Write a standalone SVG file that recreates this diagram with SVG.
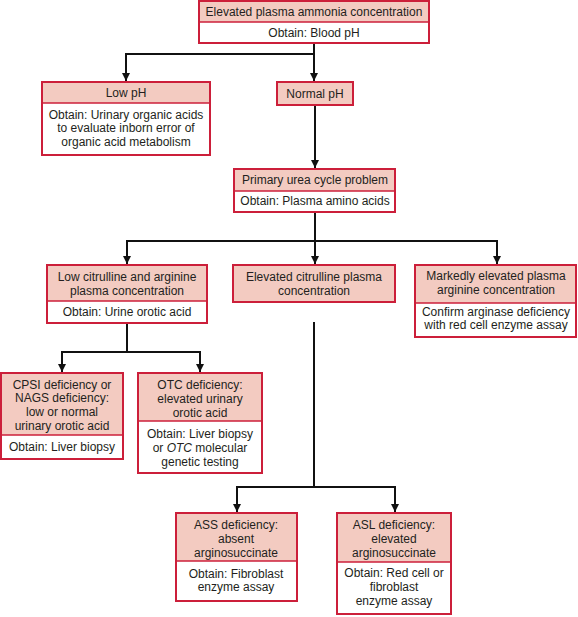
<svg xmlns="http://www.w3.org/2000/svg" width="578" height="617" viewBox="0 0 578 617">
<style>
.hd{fill:#F3CBC1;stroke:none}
.bd{fill:#FFFFFF;stroke:none}
.bx{fill:none;stroke:#CC1F3A;stroke-width:2}
.dv{stroke:#CC1F3A;stroke-width:1.5}
text{font-family:"Liberation Sans",Arial,sans-serif;font-size:12px;fill:#231F20;text-anchor:middle}
.cn{fill:none;stroke:#111;stroke-width:2}
</style>
<defs>
<marker id="ah" viewBox="0 0 10 10" refX="10" refY="5" markerWidth="8" markerHeight="9" markerUnits="userSpaceOnUse" orient="auto">
<path d="M0,0 L10,5 L0,10 Z" fill="#111"/>
</marker>
</defs>
<rect width="578" height="617" fill="#fff"/>
<g id="connectors">
<path class="cn" d="M314,43 V54 M126,54 H314"/>
<path class="cn" d="M314,54 V81" marker-end="url(#ah)"/>
<path class="cn" d="M126,53 V81" marker-end="url(#ah)"/>
<path class="cn" d="M315,105 V168" marker-end="url(#ah)"/>
<path class="cn" d="M315,212 V241 M126,241 H498"/>
<path class="cn" d="M127,240 V264" marker-end="url(#ah)"/>
<path class="cn" d="M315,241 V264" marker-end="url(#ah)"/>
<path class="cn" d="M497,240 V264" marker-end="url(#ah)"/>
<path class="cn" d="M127,323 V352 M61,352 H201"/>
<path class="cn" d="M62,351 V372" marker-end="url(#ah)"/>
<path class="cn" d="M200,351 V372" marker-end="url(#ah)"/>
<path class="cn" d="M314,322 V487 M236,487 H396"/>
<path class="cn" d="M237,486 V512" marker-end="url(#ah)"/>
<path class="cn" d="M395,486 V512" marker-end="url(#ah)"/>
</g>
<g id="n-ammonia">
<rect class="hd" x="199" y="1" width="230" height="21"/>
<rect class="bd" x="199" y="22" width="230" height="21"/>
<line class="dv" x1="199" y1="22" x2="429" y2="22"/>
<rect class="bx" x="199" y="1" width="230" height="42"/>
<text x="314" y="16">Elevated plasma ammonia concentration</text>
<text x="314" y="37">Obtain: Blood pH</text>
</g>
<g id="n-lowph">
<rect class="hd" x="42" y="82" width="168" height="21"/>
<rect class="bd" x="42" y="103" width="168" height="52"/>
<line class="dv" x1="42" y1="103" x2="210" y2="103"/>
<rect class="bx" x="42" y="82" width="168" height="73"/>
<text x="126" y="97">Low pH</text>
<text x="126" y="119">Obtain: Urinary organic acids</text>
<text x="126" y="132">to evaluate inborn error of</text>
<text x="126" y="146">organic acid metabolism</text>
</g>
<g id="n-normalph">
<rect class="hd" x="277" y="82" width="76" height="23"/>
<rect class="bx" x="277" y="82" width="76" height="23"/>
<text x="315" y="98">Normal pH</text>
</g>
<g id="n-primary">
<rect class="hd" x="234" y="169" width="161" height="22"/>
<rect class="bd" x="234" y="191" width="161" height="21"/>
<line class="dv" x1="234" y1="191" x2="395" y2="191"/>
<rect class="bx" x="234" y="169" width="161" height="43"/>
<text x="315" y="184">Primary urea cycle problem</text>
<text x="315" y="205">Obtain: Plasma amino acids</text>
</g>
<g id="n-lowcit">
<rect class="hd" x="47" y="265" width="160" height="36"/>
<rect class="bd" x="47" y="301" width="160" height="22"/>
<line class="dv" x1="47" y1="301" x2="207" y2="301"/>
<rect class="bx" x="47" y="265" width="160" height="58"/>
<text x="127" y="281">Low citrulline and arginine</text>
<text x="127" y="295">plasma concentration</text>
<text x="127" y="316">Obtain: Urine orotic acid</text>
</g>
<g id="n-elevcit">
<rect class="hd" x="233" y="265" width="162" height="37"/>
<rect class="bx" x="233" y="265" width="162" height="37"/>
<text x="314" y="281">Elevated citrulline plasma</text>
<text x="314" y="295">concentration</text>
</g>
<g id="n-arginine">
<rect class="hd" x="415" y="265" width="161" height="38"/>
<rect class="bd" x="415" y="303" width="161" height="34"/>
<line class="dv" x1="415" y1="303" x2="576" y2="303"/>
<rect class="bx" x="415" y="265" width="161" height="72"/>
<text x="496" y="280">Markedly elevated plasma</text>
<text x="496" y="294">arginine concentration</text>
<text x="496" y="316">Confirm arginase deficiency</text>
<text x="496" y="329">with red cell enzyme assay</text>
</g>
<g id="n-cpsi">
<rect class="hd" x="1" y="373" width="122" height="62"/>
<rect class="bd" x="1" y="435" width="122" height="24"/>
<line class="dv" x1="1" y1="435" x2="123" y2="435"/>
<rect class="bx" x="1" y="373" width="122" height="86"/>
<text x="62" y="389">CPSI deficiency or</text>
<text x="62" y="402">NAGS deficiency:</text>
<text x="62" y="416">low or normal</text>
<text x="62" y="430">urinary orotic acid</text>
<text x="62" y="451">Obtain: Liver biopsy</text>
</g>
<g id="n-otc">
<rect class="hd" x="138" y="373" width="124" height="48"/>
<rect class="bd" x="138" y="421" width="124" height="52"/>
<line class="dv" x1="138" y1="421" x2="262" y2="421"/>
<rect class="bx" x="138" y="373" width="124" height="100"/>
<text x="200" y="389">OTC deficiency:</text>
<text x="200" y="403">elevated urinary</text>
<text x="200" y="417">orotic acid</text>
<text x="200" y="438">Obtain: Liver biopsy</text>
<text x="200" y="452">or <tspan font-style="italic">OTC</tspan> molecular</text>
<text x="200" y="466">genetic testing</text>
</g>
<g id="n-ass">
<rect class="hd" x="176" y="513" width="121" height="48"/>
<rect class="bd" x="176" y="561" width="121" height="40"/>
<line class="dv" x1="176" y1="561" x2="297" y2="561"/>
<rect class="bx" x="176" y="513" width="121" height="88"/>
<text x="236" y="529">ASS deficiency:</text>
<text x="236" y="543">absent</text>
<text x="236" y="557">arginosuccinate</text>
<text x="236" y="578">Obtain: Fibroblast</text>
<text x="236" y="591">enzyme assay</text>
</g>
<g id="n-asl">
<rect class="hd" x="337" y="513" width="114" height="49"/>
<rect class="bd" x="337" y="562" width="114" height="52"/>
<line class="dv" x1="337" y1="562" x2="451" y2="562"/>
<rect class="bx" x="337" y="513" width="114" height="101"/>
<text x="394" y="529">ASL deficiency:</text>
<text x="394" y="543">elevated</text>
<text x="394" y="557">arginosuccinate</text>
<text x="394" y="577">Obtain: Red cell or</text>
<text x="394" y="591">fibroblast</text>
<text x="394" y="605">enzyme assay</text>
</g>
</svg>
